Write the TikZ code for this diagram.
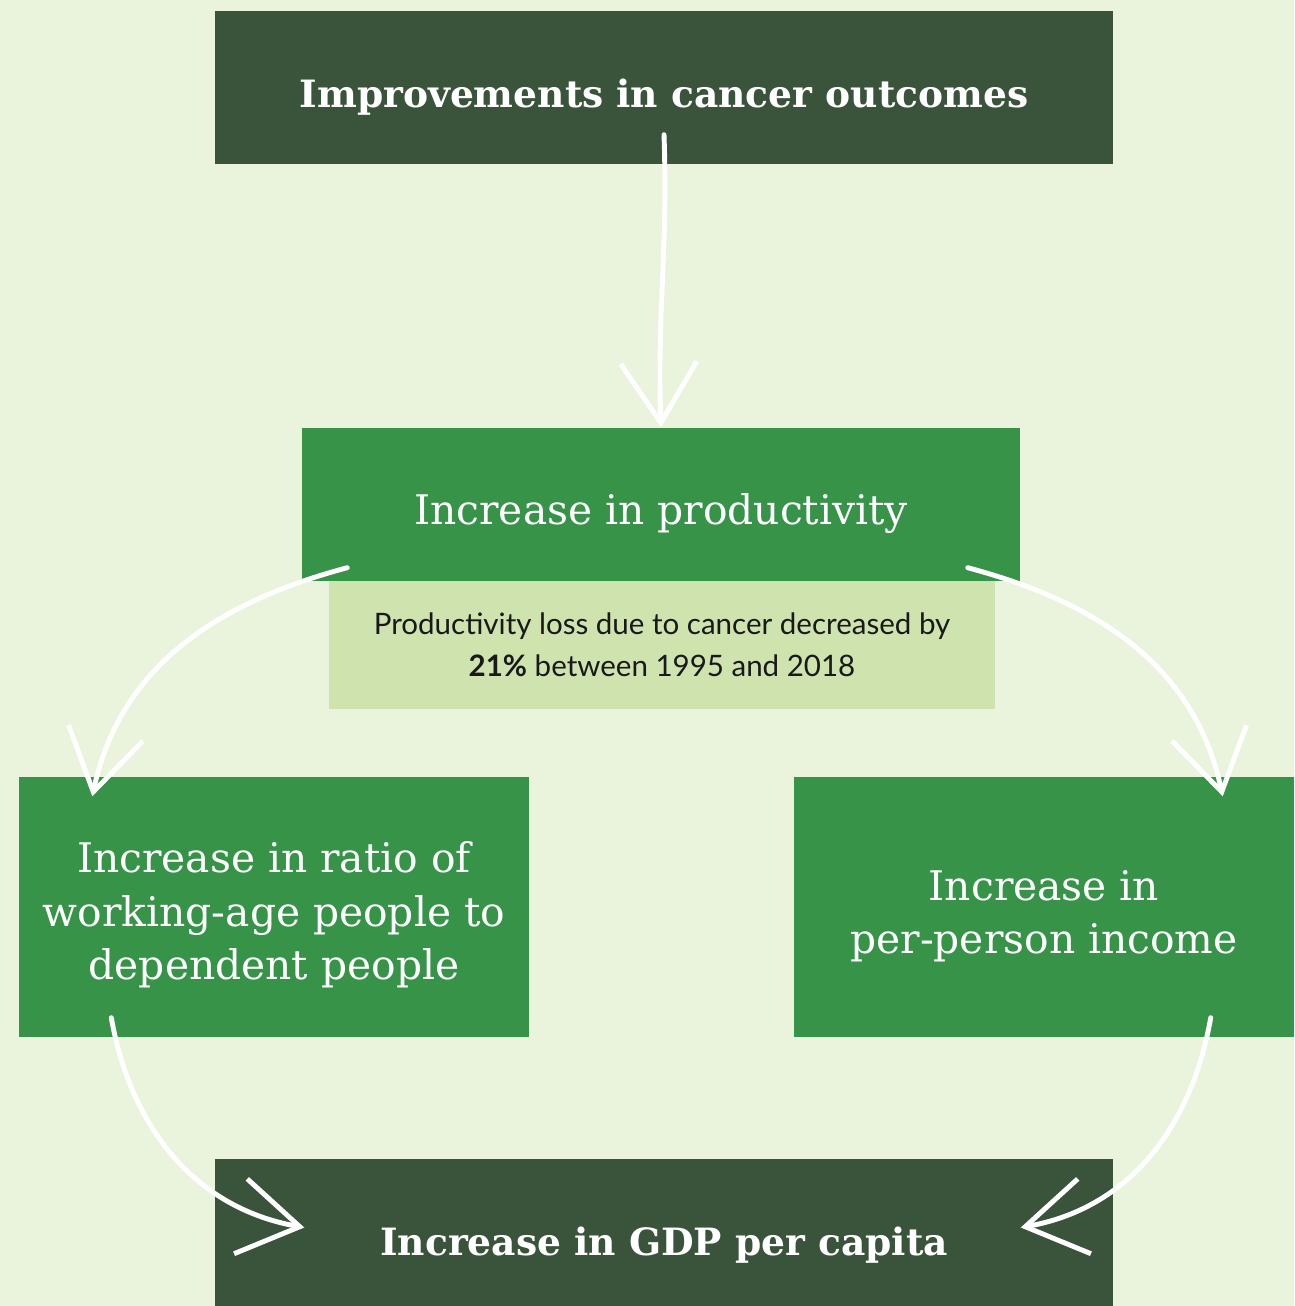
\documentclass[tikz,border=0pt]{standalone}
\usepackage{fontspec}
\setmainfont{DejaVu Serif}
\newfontfamily\notefont{Lato}
\usetikzlibrary{positioning,arrows.meta}
\definecolor{bgcol}{RGB}{234,243,220}
\definecolor{darkgreen}{RGB}{58,83,59}
\definecolor{midgreen}{RGB}{54,147,72}
\definecolor{palegreen}{RGB}{206,227,174}
\tikzset{
  darkbox/.style={rectangle, fill=darkgreen, text=white, inner sep=0pt, minimum width=8.98cm, text height=0.47cm, font=\fontsize{10.7}{13}\selectfont\bfseries},
  greenbox/.style={rectangle, fill=midgreen, text=white, inner sep=0pt, align=center, text height=0.5cm, font=\fontsize{11.6}{15.2}\selectfont},
  notebox/.style={rectangle, fill=palegreen, text=black!90, inner sep=0pt, align=center, minimum width=6.66cm, minimum height=1.28cm, font=\notefont\fontsize{8.4}{12}\selectfont},
  chalk/.style={draw=white, line width=1.4pt, line cap=round, -{Straight Barb[length=6mm,width=7.6mm,line width=1.4pt]}}
}
\begin{document}
\begin{tikzpicture}
  % Background
  \fill[bgcol] (0,0) rectangle (12.94,-13.06);
  \useasboundingbox (0,0) rectangle (12.94,-13.06);
  % Nodes
  \node (top) [darkbox, minimum height=1.53cm] at (6.64,-0.875) {Improvements in cancer outcomes};
  \node (prod) [greenbox, minimum width=7.18cm, minimum height=1.53cm] at (6.61,-5.045) {Increase in productivity};
  \node (note) [notebox] at (6.62,-6.45) {Productivity loss due to cancer decreased by\\{\bfseries 21\%} between 1995 and 2018};
  \node (left) [greenbox, minimum width=5.10cm, minimum height=2.60cm, text height=1.54cm] at (2.74,-9.07) {Increase in ratio of\\working-age people to\\dependent people};
  \node (right) [greenbox, minimum width=5.00cm, minimum height=2.60cm, text height=1.02cm] at (10.44,-9.07) {Increase in\\per-person income};
  \node (bottom) [darkbox, minimum height=1.47cm, text height=0.53cm] at (6.64,-12.325) {Increase in GDP per capita};
  % Arrows
  \draw[chalk] ([yshift=0.3cm]top.south) to[out=-88,in=92] (prod.north);
  \draw[chalk] ([shift={(0.46,0.14)}]prod.south west) to[out=195,in=78] ([shift={(0.74,-0.2)}]left.north west);
  \draw[chalk] ([shift={(-0.53,0.14)}]prod.south east) to[out=-15,in=102] ([shift={(-0.72,-0.2)}]right.north east);
  \draw[chalk] ([shift={(0.93,0.2)}]left.south west) to[out=-80,in=170] ([shift={(0.9,0.05)}]bottom.west);
  \draw[chalk] ([shift={(-0.84,0.2)}]right.south east) to[out=-100,in=10] ([shift={(-0.93,0.05)}]bottom.east);
\end{tikzpicture}
\end{document}
